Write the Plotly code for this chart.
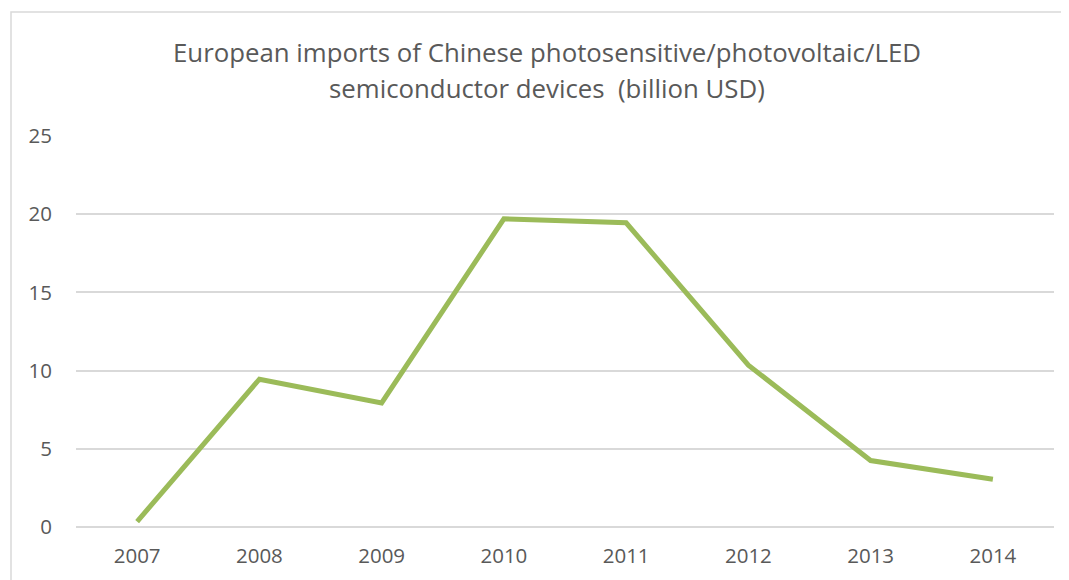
import plotly.graph_objects as go

years = ["2007", "2008", "2009", "2010", "2011", "2012", "2013", "2014"]
imports_busd = [0.35, 9.45, 7.93, 19.7, 19.45, 10.35, 4.25, 3.05]
y_ticks = [0, 5, 10, 15, 20, 25]

# page has an 8px body margin, so the figure is drawn 8px in from the window corner
OFF = 8
W, H = 1069 - OFF, 580 - OFF
L, R, T, B = 76 - OFF, 15, 136 - OFF, 53
font_family = "'Open Sans', sans-serif"
text_color = "#595959"
grid_color = "#D9D9D9"

fig = go.Figure()
fig.add_trace(go.Scatter(
    x=years, y=imports_busd, mode="lines",
    line=dict(color="#9BBB59", width=5),
    hoverinfo="x+y", showlegend=False,
))

pw = W - L - R
ph = H - T - B

def px_to_paper_x(px):
    return (px - OFF - L) / pw

def px_to_paper_y(py):
    return (H - B - (py - OFF)) / ph

fig.update_layout(
    width=W, height=H,
    margin=dict(l=L, r=R, t=T, b=B, autoexpand=False),
    paper_bgcolor="white", plot_bgcolor="white",
    font=dict(family=font_family, color=text_color, size=20),
    xaxis=dict(
        type="category", range=[-0.5, len(years) - 0.5],
        showgrid=False, zeroline=False, showline=False,
        ticks="", ticklabelstandoff=14, tickfont=dict(size=20.5, color=text_color),
        fixedrange=True,
    ),
    yaxis=dict(
        range=[0, 25], tickvals=y_ticks, showgrid=True, gridcolor=grid_color,
        gridwidth=1.5, zeroline=True, zerolinecolor=grid_color, zerolinewidth=1.5,
        showline=False, ticks="", ticklabelstandoff=23,
        tickfont=dict(size=20.5, color=text_color), fixedrange=True,
    ),
    shapes=[dict(
        type="rect", xref="paper", yref="paper",
        x0=px_to_paper_x(11), x1=px_to_paper_x(1090),
        y0=px_to_paper_y(600), y1=px_to_paper_y(12),
        line=dict(color=grid_color, width=1.5), fillcolor="rgba(0,0,0,0)", layer="below",
    )],
    annotations=[
        dict(text="European imports of Chinese photosensitive/photovoltaic/LED",
             xref="paper", yref="paper", x=px_to_paper_x(547), y=px_to_paper_y(52),
             xanchor="center", yanchor="middle", showarrow=False,
             font=dict(size=25.8, color=text_color, family=font_family)),
        dict(text="semiconductor devices  (billion USD)",
             xref="paper", yref="paper", x=px_to_paper_x(547), y=px_to_paper_y(88),
             xanchor="center", yanchor="middle", showarrow=False,
             font=dict(size=25.8, color=text_color, family=font_family)),
    ],
)

fig.write_html("out.html")
